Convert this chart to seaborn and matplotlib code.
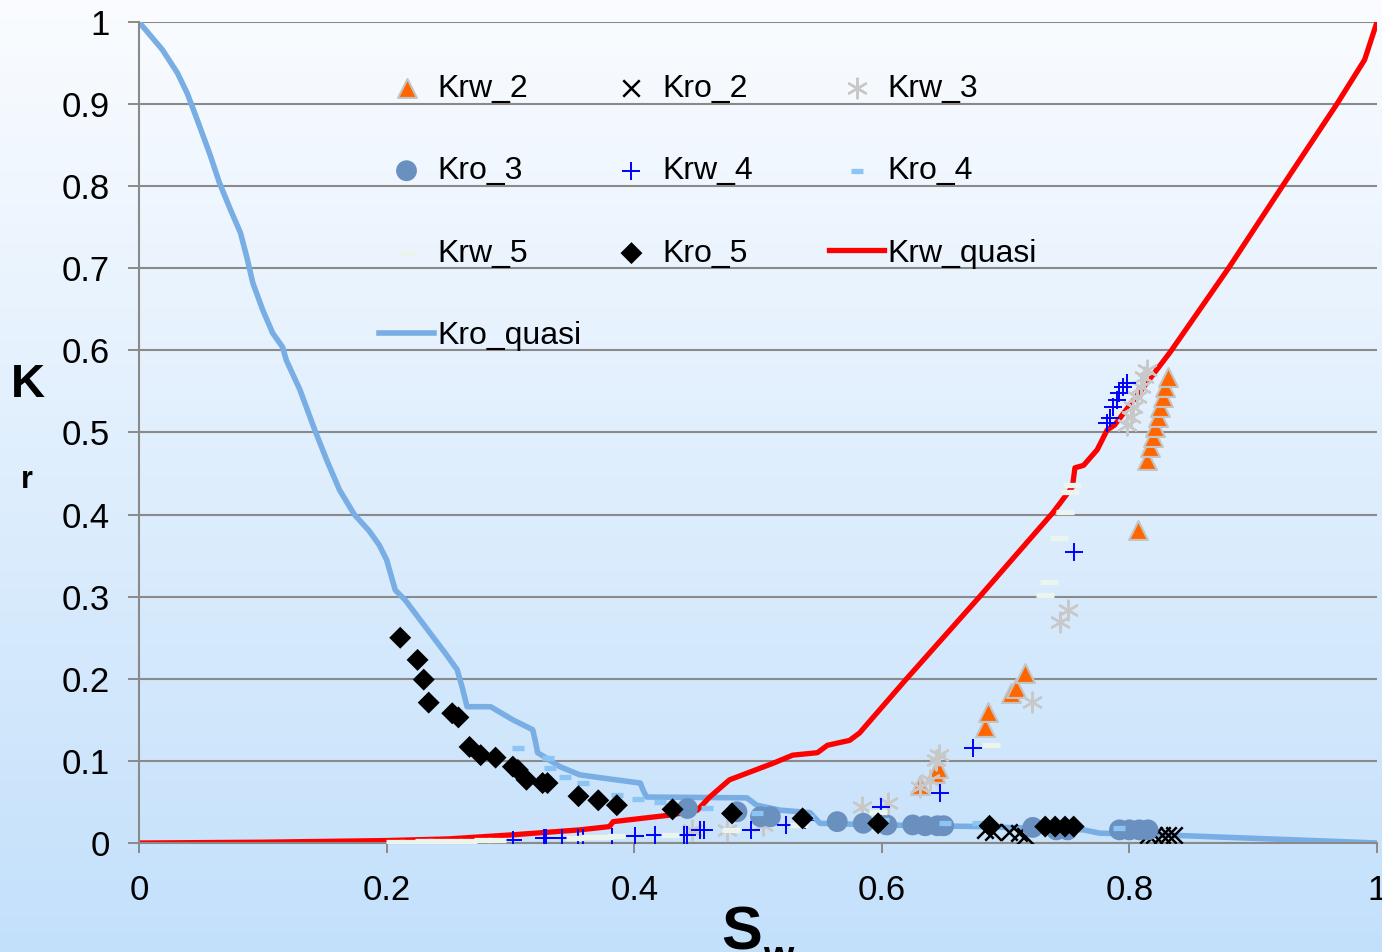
import numpy as np
import matplotlib
matplotlib.use("Agg")
import matplotlib.pyplot as plt
import seaborn as sns

# ---- data ----
kro_quasi_sw = [0, 0.019, 0.031, 0.039, 0.047, 0.057, 0.065, 0.074, 0.082, 0.087, 0.092, 0.100,
                0.108, 0.116, 0.119, 0.130, 0.142, 0.152, 0.162, 0.174, 0.186, 0.194, 0.200, 0.207,
                0.215, 0.235, 0.248, 0.257, 0.261, 0.265, 0.284, 0.302, 0.318, 0.320, 0.322, 0.340,
                0.356, 0.380, 0.405, 0.407, 0.410, 0.491, 0.499, 0.518, 0.542, 0.550, 0.600, 0.679,
                0.763, 0.776, 0.800, 0.825, 1.0]
kro_quasi = [1, 0.966, 0.938, 0.913, 0.881, 0.840, 0.804, 0.771, 0.743, 0.714, 0.682, 0.649,
             0.621, 0.604, 0.588, 0.552, 0.503, 0.465, 0.430, 0.400, 0.380, 0.363, 0.345, 0.308,
             0.296, 0.256, 0.230, 0.211, 0.190, 0.166, 0.166, 0.150, 0.138, 0.125, 0.110, 0.093,
             0.083, 0.078, 0.073, 0.065, 0.056, 0.055, 0.046, 0.040, 0.037, 0.024, 0.022, 0.020,
             0.016, 0.012, 0.011, 0.010, 0.0]

krw_quasi_sw = [0, 0.1, 0.2, 0.25, 0.302, 0.356, 0.380, 0.383, 0.429, 0.451, 0.461, 0.477, 0.491,
                0.512, 0.528, 0.548, 0.556, 0.574, 0.582, 0.620, 0.679, 0.738, 0.754, 0.756, 0.763,
                0.774, 0.782, 0.788, 0.833, 0.880, 0.924, 0.968, 0.990, 1.0]
krw_quasi = [0, 0.001, 0.003, 0.005, 0.010, 0.016, 0.020, 0.026, 0.034, 0.040, 0.056, 0.077, 0.085,
             0.097, 0.107, 0.110, 0.119, 0.125, 0.134, 0.200, 0.300, 0.402, 0.434, 0.457, 0.460,
             0.479, 0.503, 0.509, 0.598, 0.700, 0.801, 0.901, 0.954, 1.0]

krw2_sw = [0.631, 0.643, 0.645, 0.683, 0.686, 0.704, 0.708, 0.716, 0.807, 0.814, 0.817, 0.819,
           0.821, 0.823, 0.825, 0.827, 0.829, 0.831]
krw2 = [0.071, 0.085, 0.091, 0.141, 0.160, 0.183, 0.189, 0.207, 0.381, 0.467, 0.482, 0.495,
        0.507, 0.519, 0.531, 0.543, 0.555, 0.568]

kro2_sw = [0.683, 0.690, 0.703, 0.711, 0.716, 0.815, 0.820, 0.826, 0.831, 0.836]
kro2 = [0.016, 0.013, 0.014, 0.012, 0.008, 0.010, 0.010, 0.010, 0.010, 0.010]

krw3_sw = [0.447, 0.475, 0.504, 0.584, 0.605, 0.631, 0.639, 0.644, 0.646, 0.721, 0.744, 0.750,
           0.798, 0.801, 0.803, 0.806, 0.809, 0.812, 0.814]
krw3 = [0.016, 0.016, 0.022, 0.044, 0.049, 0.068, 0.077, 0.101, 0.107, 0.172, 0.269, 0.284,
        0.509, 0.519, 0.531, 0.543, 0.555, 0.568, 0.576]

kro3_sw = [0.443, 0.483, 0.502, 0.510, 0.564, 0.585, 0.604, 0.625, 0.635, 0.645, 0.650, 0.722,
           0.741, 0.750, 0.792, 0.800, 0.808, 0.815]
kro3 = [0.042, 0.038, 0.032, 0.032, 0.026, 0.024, 0.022, 0.022, 0.021, 0.021, 0.021, 0.019,
        0.016, 0.016, 0.016, 0.016, 0.016, 0.016]

krw4_sw = [0.302, 0.327, 0.329, 0.342, 0.355, 0.359, 0.382, 0.401, 0.417, 0.440, 0.443, 0.453,
           0.456, 0.494, 0.523, 0.538, 0.599, 0.647, 0.674, 0.755, 0.782, 0.784, 0.787, 0.790,
           0.792, 0.795, 0.798]
krw4 = [0.004, 0.006, 0.006, 0.006, 0.006, 0.006, 0.007, 0.008, 0.010, 0.010, 0.010, 0.016,
        0.016, 0.016, 0.022, 0.028, 0.044, 0.061, 0.116, 0.354, 0.512, 0.518, 0.531, 0.540,
        0.548, 0.555, 0.560]

kro4_sw = [0.306, 0.330, 0.332, 0.344, 0.359, 0.386, 0.403, 0.421, 0.459, 0.499, 0.540, 0.601,
           0.651, 0.678, 0.792]
kro4 = [0.116, 0.104, 0.091, 0.080, 0.073, 0.058, 0.054, 0.050, 0.043, 0.037, 0.032, 0.028,
        0.024, 0.024, 0.018]

krw5_sw = [0.207, 0.218, 0.230, 0.240, 0.254, 0.266, 0.278, 0.289, 0.352, 0.364, 0.376, 0.385,
           0.429, 0.478, 0.533, 0.597, 0.688, 0.732, 0.735, 0.743, 0.748, 0.752, 0.754]
krw5 = [0.001, 0.001, 0.002, 0.002, 0.003, 0.003, 0.004, 0.004, 0.006, 0.007, 0.007, 0.008,
        0.010, 0.016, 0.022, 0.038, 0.119, 0.302, 0.318, 0.371, 0.403, 0.428, 0.436]

kro5_sw = [0.211, 0.225, 0.230, 0.234, 0.253, 0.258, 0.267, 0.276, 0.288, 0.302, 0.306, 0.313,
           0.326, 0.330, 0.355, 0.371, 0.386, 0.431, 0.479, 0.536, 0.597, 0.687, 0.732, 0.740,
           0.748, 0.755]
kro5 = [0.250, 0.223, 0.199, 0.171, 0.158, 0.153, 0.117, 0.107, 0.104, 0.093, 0.089, 0.077,
        0.073, 0.073, 0.057, 0.052, 0.046, 0.041, 0.036, 0.030, 0.024, 0.021, 0.020, 0.020,
        0.020, 0.020]

x_ticks = [0, 0.2, 0.4, 0.6, 0.8, 1.0]
x_ticklabels = ["0", "0.2", "0.4", "0.6", "0.8", "1"]
y_ticks = [0, 0.1, 0.2, 0.3, 0.4, 0.5, 0.6, 0.7, 0.8, 0.9, 1.0]
y_ticklabels = ["0", "0.1", "0.2", "0.3", "0.4", "0.5", "0.6", "0.7", "0.8", "0.9", "1"]

plt.rcParams['font.family'] = ['Liberation Sans', 'DejaVu Sans']

W, H = 1382, 952
fig = plt.figure(figsize=(W / 100, H / 100), dpi=100)

# gradient background, white-ish on top to light blue at the bottom
bg = fig.add_axes([0, 0, 1, 1])
top = np.array([250, 252, 255]) / 255
bot = np.array([195, 224, 251]) / 255
t = np.linspace(0, 1, 256)[:, None]
grad = (top[None, :] * (1 - t) + bot[None, :] * t)[:, None, :]
bg.imshow(grad, aspect='auto', extent=[0, 1, 0, 1], interpolation='bilinear')
bg.set_axis_off()

ax = fig.add_axes([139 / W, 1 - 843 / H, (1377 - 139) / W, (843 - 22) / H])
ax.set_facecolor('none')

grid_c = '#8a8a8a'

# lines first, markers sit on top
sns.lineplot(x=kro_quasi_sw, y=kro_quasi, ax=ax, color='#78aee4', linewidth=4,
             sort=False, estimator=None, label='Kro_quasi', zorder=2)
sns.lineplot(x=krw_quasi_sw, y=krw_quasi, ax=ax, color='#ff0000', linewidth=3.8,
             sort=False, estimator=None, label='Krw_quasi', zorder=2.1)

sns.scatterplot(x=krw2_sw, y=krw2, ax=ax, marker='^', s=185, color='#ff6600',
                edgecolor='#c4c4c4', linewidth=1.5, label='Krw_2', zorder=3)
sns.scatterplot(x=kro2_sw, y=kro2, ax=ax, marker='x', s=140, color='black',
                linewidth=1.8, label='Kro_2', zorder=3)
sns.scatterplot(x=krw3_sw, y=krw3, ax=ax, marker=(6, 2, 0), s=200, color='#c8c8c8',
                linewidth=1.7, label='Krw_3', zorder=3)
sns.scatterplot(x=kro3_sw, y=kro3, ax=ax, marker='o', s=225, color='#6990bf',
                edgecolor='none', label='Kro_3', zorder=3)
sns.scatterplot(x=krw4_sw, y=krw4, ax=ax, marker='+', s=180, color='#0000ff',
                linewidth=1.4, label='Krw_4', zorder=3)
sns.scatterplot(x=kro4_sw, y=kro4, ax=ax, marker='_', s=70, color='#8cc4f4',
                linewidth=3.8, label='Kro_4', zorder=3)
sns.scatterplot(x=krw5_sw, y=krw5, ax=ax, marker='_', s=150, color='#ebf5ee',
                linewidth=3.8, label='Krw_5', zorder=3)
sns.scatterplot(x=kro5_sw, y=kro5, ax=ax, marker='D', s=125, color='black',
                edgecolor='none', label='Kro_5', zorder=3)

ax.set_xlim(0, 1)
ax.set_ylim(0, 1)
ax.set_xticks(x_ticks)
ax.set_xticklabels(x_ticklabels)
ax.set_yticks(y_ticks)
ax.set_yticklabels(y_ticklabels)
ax.set_xlabel('')
ax.set_ylabel('')
ax.yaxis.grid(True, color=grid_c, linewidth=1.5)
ax.xaxis.grid(False)
ax.set_axisbelow(True)
for side in ['top', 'right']:
    ax.spines[side].set_visible(False)
for side in ['left', 'bottom']:
    ax.spines[side].set_color(grid_c)
    ax.spines[side].set_linewidth(1.5)
ax.tick_params(axis='y', length=8, width=1.4, color=grid_c, pad=13, labelsize=25)
ax.tick_params(axis='x', length=7, width=1.4, color=grid_c, pad=15, labelsize=25)
for lbl in ax.get_xticklabels() + ax.get_yticklabels():
    lbl.set_clip_on(False)

# legend in three columns, Excel style row order
handles, labels = ax.get_legend_handles_labels()
lookup = dict(zip(labels, handles))
if ax.get_legend():
    ax.get_legend().remove()
columns = [['Krw_2', 'Kro_3', 'Krw_5', 'Kro_quasi'],
           ['Kro_2', 'Krw_4', 'Kro_5'],
           ['Krw_3', 'Kro_4', 'Krw_quasi']]
col_x = [0.1935, 0.3752, 0.5570]
for i, (names, cx) in enumerate(zip(columns, col_x)):
    leg = ax.legend([lookup[n] for n in names], names, loc='upper left',
                    bbox_to_anchor=(cx, 0.937), frameon=False, fontsize=23,
                    borderpad=0, borderaxespad=0, labelspacing=1.64,
                    handlelength=1.75, handletextpad=0.1, scatterpoints=1)
    if i < len(columns) - 1:
        ax.add_artist(leg)

# axis titles
fig.text(28 / W, 1 - 385 / H, 'K', fontsize=34, fontweight='bold', ha='center', va='center')
fig.text(27 / W, 1 - 480 / H, 'r', fontsize=22, fontweight='bold', ha='center', va='center')
fig.text(742 / W, 1 - 949 / H, 'S', fontsize=44, fontweight='bold', ha='center', va='baseline')
fig.text(763 / W, 1 - 968 / H, 'w', fontsize=28, fontweight='bold', ha='left', va='baseline')

fig.savefig('out.png', dpi=100)
